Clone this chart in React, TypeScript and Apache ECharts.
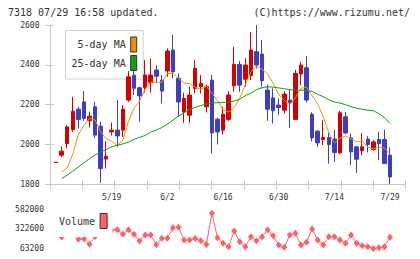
import React, { useEffect, useRef } from "react";
import * as echarts from "echarts";

// Trading days shown on the chart (2025)
const dates = [
  "5/1", "5/2", "5/7", "5/8", "5/9", "5/12", "5/13", "5/14", "5/15", "5/16",
  "5/19", "5/20", "5/21", "5/22", "5/23", "5/26", "5/27", "5/28", "5/29", "5/30",
  "6/2", "6/3", "6/4", "6/5", "6/6", "6/9", "6/10", "6/11", "6/12", "6/13",
  "6/16", "6/17", "6/18", "6/19", "6/20", "6/23", "6/24", "6/25", "6/26", "6/27",
  "6/30", "7/1", "7/2", "7/3", "7/4", "7/7", "7/8", "7/9", "7/10", "7/11",
  "7/14", "7/15", "7/16", "7/17", "7/18", "7/22", "7/23", "7/24", "7/25", "7/28",
  "7/29",
];

const openPrices = [
  1909, 1946, 2004, 2075, 2177, 2214, 2119, 2189, 2092, 1927,
  2063, 2072, 2072, 2223, 2348, 2285, 2285, 2310, 2374, 2323,
  2369, 2474, 2332, 2163, 2147, 2282, 2290, 2189, 2323, 2127,
  2072, 2126, 2295, 2402, 2328, 2345, 2466, 2454, 2273, 2234,
  2198, 2172, 2223, 2126, 2354, 2385, 2152, 2067, 2025, 2035,
  2027, 1958, 2139, 2033, 1988, 1968, 2027, 1975, 2025, 2025,
  1946,
];

const closePrices = [
  1911, 1966, 2088, 2167, 2126, 2131, 2142, 2047, 1879, 1941,
  2072, 2043, 2177, 2340, 2282, 2244, 2349, 2349, 2343, 2268,
  2469, 2365, 2213, 2231, 2248, 2382, 2307, 2290, 2058, 2063,
  2152, 2248, 2402, 2298, 2399, 2474, 2399, 2320, 2177, 2169,
  2186, 2253, 2211, 2357, 2399, 2223, 2033, 2008, 2035, 2000,
  1960, 2159, 2058, 1963, 1926, 1988, 2000, 2013, 2005, 1904,
  1837,
];

const lowPrices = [
  1909, 1936, 1980, 2063, 2080, 2119, 2085, 2032, 1807, 1879,
  2045, 1988, 2038, 2214, 2248, 2114, 2261, 2261, 2307, 2206,
  2340, 2332, 2139, 2109, 2109, 2256, 2256, 2160, 1955, 2000,
  2050, 2119, 2265, 2265, 2290, 2323, 2382, 2290, 2119, 2105,
  2147, 2156, 2083, 2126, 2298, 2211, 2016, 1988, 1997, 1904,
  1912, 1951, 2052, 1896, 1857, 1946, 1960, 1968, 1921, 1904,
  1800,
];

const highPrices = [
  1911, 1990, 2097, 2239, 2189, 2268, 2165, 2215, 2114, 2016,
  2110, 2223, 2198, 2369, 2369, 2290, 2424, 2432, 2399, 2349,
  2483, 2550, 2357, 2259, 2290, 2424, 2349, 2300, 2349, 2135,
  2189, 2268, 2491, 2419, 2432, 2563, 2600, 2525, 2302, 2282,
  2231, 2268, 2273, 2374, 2415, 2444, 2162, 2072, 2122, 2058,
  2072, 2169, 2164, 2055, 1991, 2058, 2042, 2022, 2063, 2075,
  1985,
];

const ma5 = [
  null, 1862, 1882, 1950, 2051, 2096, 2131, 2123, 2065, 2028,
  2016, 1996, 2022, 2115, 2183, 2217, 2278, 2313, 2313, 2311,
  2356, 2359, 2332, 2309, 2305, 2288, 2276, 2292, 2257, 2220,
  2174, 2162, 2185, 2233, 2300, 2364, 2394, 2378, 2354, 2308,
  2250, 2221, 2199, 2235, 2281, 2289, 2245, 2204, 2140, 2060,
  2007, 2032, 2042, 2028, 2013, 2019, 1987, 1978, 1986, 1982,
  1952,
];

const ma25 = [
  null, 1829, 1846, 1866, 1887, 1908, 1929, 1947, 1962, 1975,
  1988, 1996, 2003, 2012, 2025, 2036, 2045, 2062, 2072, 2085,
  2102, 2122, 2142, 2160, 2176, 2186, 2196, 2203, 2208, 2210,
  2211, 2212, 2218, 2228, 2245, 2258, 2275, 2285, 2290, 2288,
  2284, 2280, 2275, 2273, 2273, 2272, 2266, 2252, 2240, 2225,
  2214, 2208, 2200, 2190, 2182, 2177, 2172, 2170, 2155, 2135,
  2105,
];

const volumes = [
  null, 215400, 334500, 361000, 185000, 192900, 120100, 222000, 582000, 361000,
  308000, 312000, 252500, 312000, 251100, 162500, 241900, 241900, 112200, 198200,
  198200, 338500, 345100, 175700, 175700, 195600, 166400, 116100, 529100, 206100,
  132000, 87000, 294800, 153200, 87000, 219400, 166400, 219400, 308000, 232600,
  109500, 79100, 241900, 264400, 109500, 145300, 321300, 175700, 109500, 219400,
  219400, 175700, 132000, 241900, 132000, 100300, 87000, 63200, 73800, 87000,
  211400,
];

const priceTicks = [1800, 2000, 2200, 2400, 2600];
const volumeTicks = [63200, 322600, 582000];
const dateLabelEvery = 10;

const headerLeft = "7318 07/29 16:58 updated.";
const headerRight = "(C)https://www.rizumu.net/";

const MONO = '"DejaVu Sans Mono", "Liberation Mono", monospace';
const TEXT = "#333";
const AXIS = "#c8c8c8";
const UP = "#d20000";
const DOWN = "#3e3ec0";
const MA5_COLOR = "#f39200";
const MA25_COLOR = "#12a012";
const VOL_COLOR = "#ff5f66";

const candles = dates.map((_, i) => [
  openPrices[i],
  closePrices[i],
  lowPrices[i],
  highPrices[i],
]);

const plainNumber = (v: number) => String(v);

export default function App() {
  const ref = useRef<HTMLDivElement>(null);

  useEffect(() => {
    if (!ref.current) return;
    const chart = echarts.init(ref.current, undefined, { renderer: "svg" });

    const priceMin = priceTicks[0];
    const priceMax = priceTicks[priceTicks.length - 1];
    const priceStep = priceTicks[1] - priceTicks[0];

    chart.setOption({
      animation: false,
      backgroundColor: "#fff",
      textStyle: { fontFamily: MONO },
      graphic: [
        {
          type: "text",
          left: 8,
          top: 7,
          style: { text: headerLeft, font: `10px ${MONO}`, fill: TEXT },
        },
        {
          type: "text",
          right: 10,
          top: 7,
          style: { text: headerRight, font: `10px ${MONO}`, fill: TEXT },
        },
      ],
      grid: [
        { left: 50, top: 25, width: 355.7, height: 159.3, show: false },
        { left: 53.3, top: 25, width: 339.5, height: 159.3, show: false },
        { left: 53.3, top: 209.3, width: 339.5, height: 39.2, show: false },
      ],
      legend: [
        {
          data: ["5-day MA", "25-day MA"],
          orient: "vertical",
          left: 65.5,
          top: 30.5,
          padding: [6, 6, 8, 6],
          itemGap: 2.5,
          itemWidth: 6,
          itemHeight: 15,
          icon: "rect",
          align: "right",
          backgroundColor: "#fff",
          borderColor: "#cfcfcf",
          borderWidth: 1,
          z: 1,
          itemStyle: { borderColor: "#333", borderWidth: 1 },
          formatter: (name: string) => `{t|${name}}`,
          textStyle: {
            fontFamily: MONO,
            fontSize: 10,
            color: TEXT,
            rich: {
              t: { width: 55, align: "right", fontFamily: MONO, fontSize: 10, color: TEXT },
            },
          },
          selectedMode: false,
        },
        {
          data: ["Volume"],
          left: 55,
          top: 205,
          padding: [8, 5, 8, 4],
          itemWidth: 7,
          itemHeight: 15,
          icon: "rect",
          align: "right",
          backgroundColor: "#fff",
          z: 10,
          itemStyle: { borderColor: "#333", borderWidth: 1 },
          textStyle: { fontFamily: MONO, fontSize: 10, color: TEXT },
          selectedMode: false,
        },
      ],
      xAxis: [
        {
          gridIndex: 0,
          type: "value",
          position: "bottom",
          min: 0,
          max: 11,
          interval: 1,
          axisLine: { show: true, lineStyle: { color: AXIS, width: 1 } },
          axisTick: { show: false },
          axisLabel: { show: false },
          splitLine: { show: false },
        },
        {
          gridIndex: 0,
          type: "value",
          position: "bottom",
          offset: -4,
          min: 0,
          max: 11,
          interval: 1,
          axisLine: { show: false },
          axisTick: { show: true, length: 9, lineStyle: { color: AXIS, width: 1 } },
          axisLabel: { show: false },
          splitLine: { show: false },
        },
        {
          gridIndex: 1,
          type: "category",
          data: dates,
          boundaryGap: true,
          axisLine: { show: false },
          axisTick: { show: false },
          splitLine: { show: false },
          axisLabel: {
            interval: (index: number) => index > 0 && index % dateLabelEvery === 0,
            margin: 9,
            fontFamily: MONO,
            fontSize: 8,
            color: TEXT,
          },
        },
        {
          gridIndex: 2,
          type: "category",
          data: dates,
          boundaryGap: true,
          show: false,
        },
      ],
      yAxis: [
        {
          gridIndex: 0,
          type: "value",
          position: "left",
          min: priceMin,
          max: priceMax,
          interval: priceStep,
          axisLine: { show: true, lineStyle: { color: AXIS, width: 1 } },
          axisTick: { show: false },
          splitLine: { show: false },
          axisLabel: {
            margin: 10.5,
            fontFamily: MONO,
            fontSize: 8,
            color: TEXT,
            formatter: plainNumber,
          },
        },
        {
          gridIndex: 0,
          type: "value",
          position: "left",
          offset: -4,
          min: priceMin,
          max: priceMax,
          interval: priceStep,
          axisLine: { show: false },
          axisTick: { show: true, length: 9, lineStyle: { color: AXIS, width: 1 } },
          splitLine: { show: false },
          axisLabel: { show: false },
        },
        {
          gridIndex: 1,
          type: "value",
          min: priceMin,
          max: priceMax,
          show: false,
          splitLine: { show: false },
        },
        {
          gridIndex: 2,
          type: "value",
          position: "left",
          min: volumeTicks[0],
          max: volumeTicks[volumeTicks.length - 1],
          axisLine: { show: false },
          axisTick: { show: false },
          splitLine: { show: false },
          axisLabel: {
            customValues: volumeTicks,
            margin: 9.3,
            fontFamily: MONO,
            fontSize: 8,
            color: TEXT,
            formatter: plainNumber,
          },
        },
      ],
      series: [
        {
          name: "Price",
          type: "candlestick",
          xAxisIndex: 2,
          yAxisIndex: 2,
          data: candles,
          barWidth: 4,
          itemStyle: {
            color: UP,
            color0: DOWN,
            borderColor: UP,
            borderColor0: DOWN,
            borderWidth: 1,
          },
        },
        {
          name: "5-day MA",
          type: "line",
          xAxisIndex: 2,
          yAxisIndex: 2,
          data: ma5,
          symbol: "none",
          itemStyle: { color: MA5_COLOR },
          lineStyle: { color: MA5_COLOR, width: 1 },
        },
        {
          name: "25-day MA",
          type: "line",
          xAxisIndex: 2,
          yAxisIndex: 2,
          data: ma25,
          symbol: "none",
          itemStyle: { color: MA25_COLOR },
          lineStyle: { color: MA25_COLOR, width: 1 },
        },
        {
          name: "Volume",
          type: "line",
          xAxisIndex: 3,
          yAxisIndex: 3,
          data: volumes,
          symbol: "diamond",
          symbolSize: [6, 7],
          showAllSymbol: true,
          itemStyle: { color: VOL_COLOR },
          lineStyle: { color: VOL_COLOR, width: 1 },
        },
      ],
    });

    return () => chart.dispose();
  }, []);

  return (
    <div
      ref={ref}
      style={{ position: "absolute", left: 0, top: 0, width: 420, height: 259, background: "#fff" }}
    />
  );
}
